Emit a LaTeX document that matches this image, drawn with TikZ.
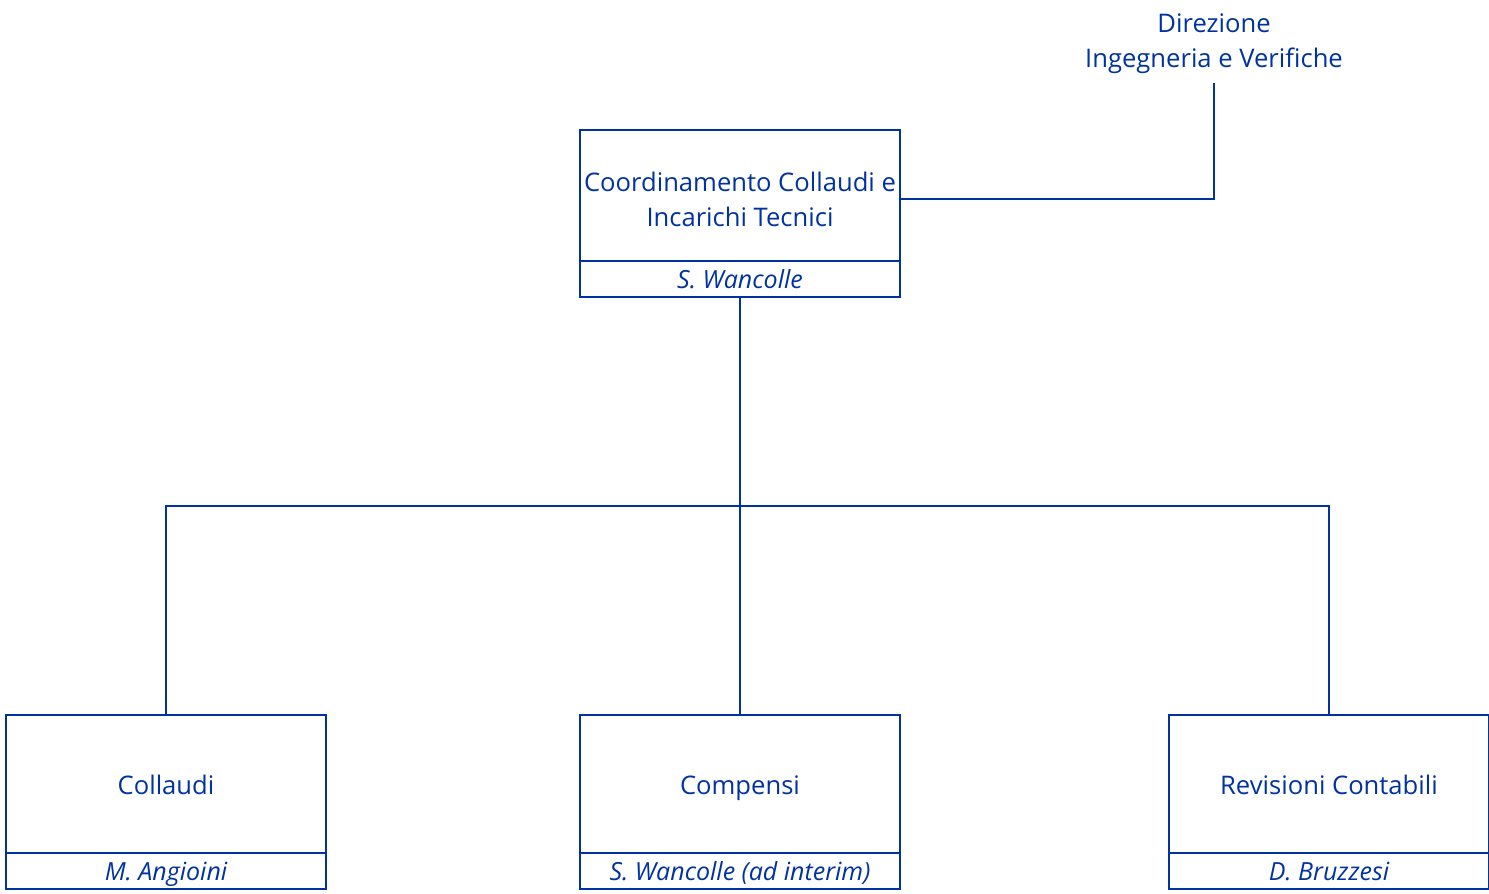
\documentclass[tikz,border=0pt]{standalone}
\usepackage{fontspec}
\setmainfont{Open Sans}
\usepackage{tikz}
\usetikzlibrary{positioning, calc}
\definecolor{orgBlue}{RGB}{0, 51, 160}

\begin{document}
\begin{tikzpicture}[
    x=0.5pt, y=-0.5pt,
    font=\fontsize{12.8}{17.5}\selectfont,
    unitBox/.style={draw=orgBlue, text=orgBlue, line width=1.4pt, minimum width=160pt, align=center, inner sep=0pt, outer sep=0pt},
    topBox/.style={unitBox, minimum height=65.5pt, text height=31pt, text depth=0pt},
    leafBox/.style={unitBox, minimum height=69pt, text height=11pt, text depth=1pt},
    nameBox/.style={unitBox, minimum height=18pt, text height=10pt, text depth=1pt, font=\fontsize{12.5}{15}\selectfont\itshape},
    headLabel/.style={text=orgBlue, align=center, inner sep=0pt},
    orgLine/.style={draw=orgBlue, line width=1.4pt}
]
    \useasboundingbox (0,0) rectangle (1489,894);

    % Nodes
    \node[headLabel] (dir) at (1214,44) {Direzione\\Ingegneria e Verifiche};

    \node[topBox] (coord) at (740,195.5) {Coordinamento Collaudi e\\Incarichi Tecnici};
    \node[nameBox, below=0pt of coord] (coordName) {S. Wancolle};

    \node[leafBox] (compensi) at (740,784) {Compensi};
    \node[nameBox, below=0pt of compensi] (compensiName) {S. Wancolle (ad interim)};

    \node[leafBox, left=127pt of compensi] (collaudi) {Collaudi};
    \node[nameBox, below=0pt of collaudi] (collaudiName) {M. Angioini};

    \node[leafBox, right=134.5pt of compensi] (revisioni) {Revisioni Contabili};
    \node[nameBox, below=0pt of revisioni] (revisioniName) {D. Bruzzesi};

    % Lines
    \coordinate (bus) at ($(coordName.south)!0.5!(compensi.north)$);
    \draw[orgLine] ([yshift=-4.5pt]dir.south) |- ([yshift=-1.75pt]coord.east);
    \draw[orgLine] (coordName.south) -- (compensi.north);
    \draw[orgLine] (collaudi.north) |- (bus) -| (revisioni.north);

\end{tikzpicture}
\end{document}
